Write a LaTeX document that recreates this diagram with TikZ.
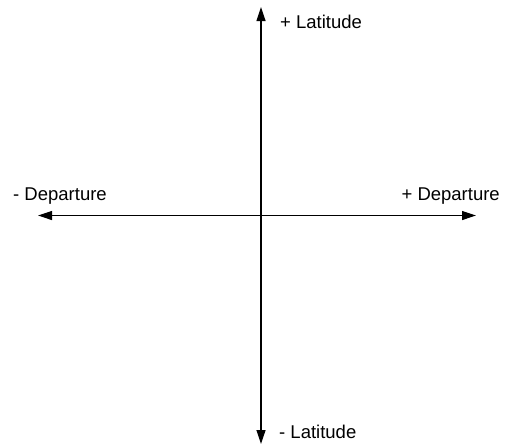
\documentclass[tikz,border=0pt]{standalone}
\usepackage{fontspec}
\setmainfont{Liberation Sans}
\usetikzlibrary{arrows.meta}
\begin{document}
\begin{tikzpicture}[x=1pt,y=-1pt,
  axis/.style={line width=1.2pt,{Triangle[length=14pt,width=9pt]}-{Triangle[length=14pt,width=9pt]}},
  lbl/.style={anchor=base west,inner sep=0pt,font=\fontsize{18.5}{20}\selectfont}]
\useasboundingbox (0,0) rectangle (517,445);
\coordinate (n) at (261,7);
\coordinate (s) at (261,444);
\coordinate (w) at (38,215.5);
\coordinate (e) at (476,215.5);
\draw[axis] (s) -- (n);
\draw[axis] (w) -- (e);
\node[lbl] (plat) at (280,28) {+ Latitude};
\node[lbl] (mlat) at (279,438) {- Latitude};
\node[lbl] (mdep) at (13,200) {- Departure};
\node[lbl,anchor=base east] (pdep) at (500,200) {+ Departure};
\end{tikzpicture}
\end{document}
